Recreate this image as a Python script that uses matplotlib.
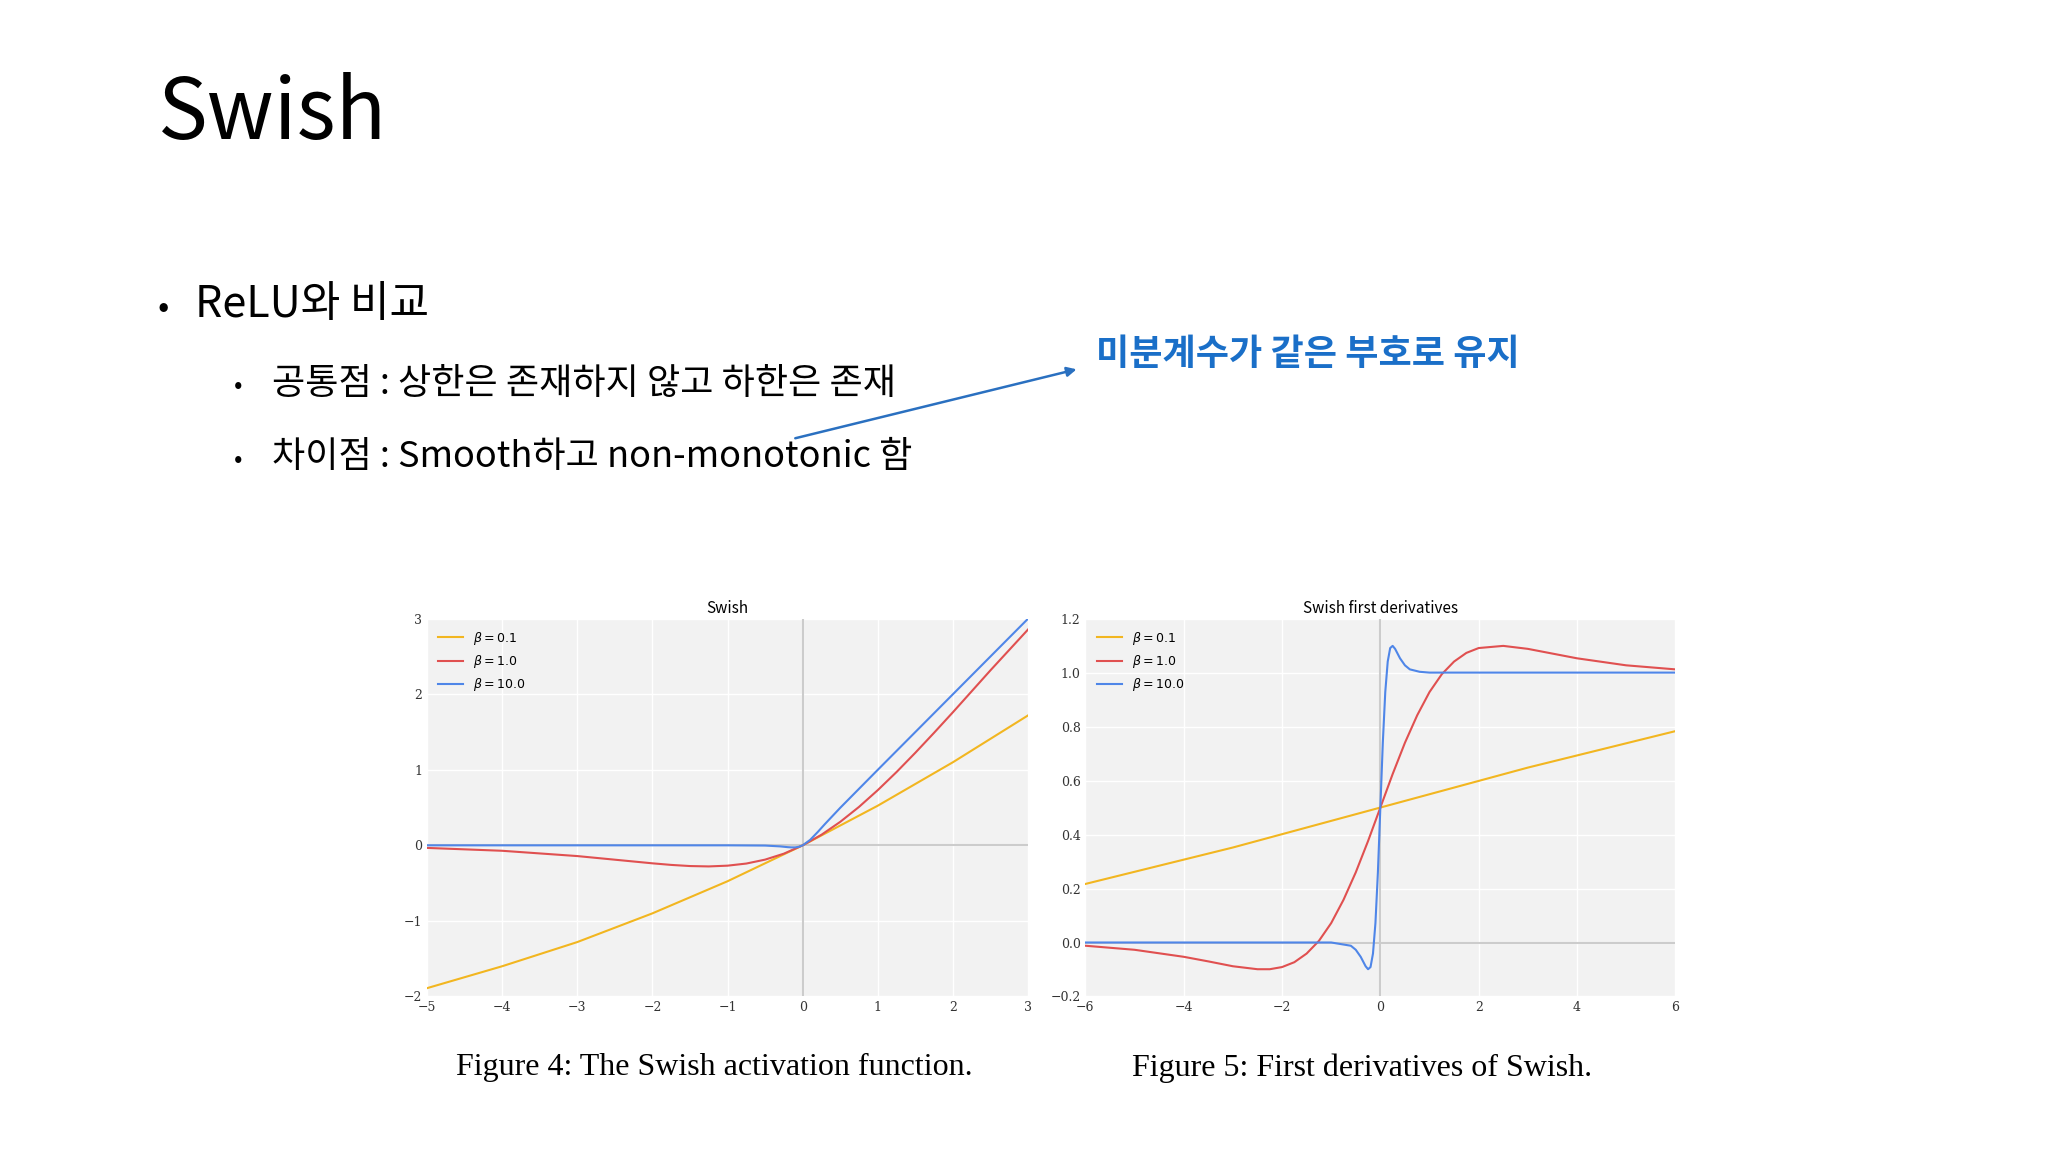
import matplotlib
matplotlib.use("Agg")
import matplotlib.pyplot as plt

plt.rcParams['font.family'] = ['Noto Sans CJK KR', 'DejaVu Sans']

# Swish values
x_b01 = [-5, -4, -3, -2, -1, 0, 1, 2, 3]
y_b01 = [-1.89, -1.60, -1.28, -0.90, -0.475, 0, 0.525, 1.10, 1.72]
x_b1 = [-5, -4, -3, -2, -1.75, -1.5, -1.25, -1, -0.75, -0.5, -0.25, 0, 0.25, 0.5, 0.75, 1, 1.25, 1.5, 1.75, 2, 2.5, 3]
y_b1 = [-0.034, -0.072, -0.142, -0.238, -0.259, -0.274, -0.279, -0.269, -0.241, -0.189, -0.110, 0, 0.140, 0.311, 0.509, 0.731, 0.971, 1.226, 1.491, 1.762, 2.317, 2.857]
x_b10 = [-5, -1, -0.5, -0.3, -0.2, -0.15, -0.1, -0.05, 0, 0.1, 0.2, 0.3, 0.5, 1, 3]
y_b10 = [0, 0, -0.003, -0.014, -0.024, -0.027, -0.027, -0.019, 0, 0.073, 0.176, 0.286, 0.497, 1.0, 3.0]

# first derivatives
dx_b01 = [-6, -3, 0, 3, 6]
dy_b01 = [0.217, 0.352, 0.5, 0.648, 0.783]
dx_b1 = [-6, -5, -4, -3.5, -3, -2.5, -2.25, -2, -1.75, -1.5, -1.25, -1, -0.75, -0.5, -0.25, 0, 0.25, 0.5, 0.75, 1, 1.25, 1.5, 1.75, 2, 2.5, 3, 4, 5, 6]
dy_b1 = [-0.012, -0.027, -0.053, -0.070, -0.088, -0.099, -0.099, -0.091, -0.073, -0.041, 0.006, 0.072, 0.158, 0.260, 0.376, 0.5, 0.624, 0.740, 0.842, 0.928, 0.994, 1.041, 1.073, 1.091, 1.099, 1.088, 1.053, 1.027, 1.012]
dx_b10 = [-6, -1, -0.6, -0.5, -0.4, -0.3, -0.25, -0.2, -0.15, -0.1, -0.05, 0, 0.05, 0.1, 0.15, 0.2, 0.25, 0.3, 0.4, 0.5, 0.6, 0.8, 1.0, 6]
dy_b10 = [0, 0, -0.012, -0.027, -0.053, -0.088, -0.099, -0.091, -0.041, 0.072, 0.260, 0.5, 0.740, 0.928, 1.041, 1.091, 1.099, 1.088, 1.053, 1.027, 1.012, 1.003, 1.0, 1.0]

labels = [r'$\beta=0.1$', r'$\beta=1.0$', r'$\beta=10.0$']
colors = ['#f2b620', '#e05050', '#4f86e8']

fig = plt.figure(figsize=(20.48, 11.52), dpi=100)
fig.patch.set_facecolor('white')

fig.text(0.077, 0.90, 'Swish', fontsize=60, va='center')
fig.text(0.077, 0.733, '•', fontsize=24, va='center')
fig.text(0.095, 0.735, 'ReLU와 비교', fontsize=31, va='center')
fig.text(0.114, 0.665, '•', fontsize=18, va='center')
fig.text(0.133, 0.667, '공통점 : 상한은 존재하지 않고 하한은 존재', fontsize=26, va='center')
fig.text(0.114, 0.601, '•', fontsize=18, va='center')
fig.text(0.133, 0.603, '차이점 : Smooth하고 non-monotonic 함', fontsize=26, va='center')
fig.text(0.535, 0.692, '미분계수가 같은 부호로 유지', fontsize=26, va='center',
         color='#1a6fc8', fontweight='bold')
fig.patches.append(matplotlib.patches.FancyArrowPatch(
    (0.387, 0.619), (0.527, 0.680), transform=fig.transFigure,
    arrowstyle='-|>', mutation_scale=14, color='#2a70c0', lw=1.8))

def style(ax):
    ax.set_facecolor('#f2f2f2')
    ax.grid(True, color='white', lw=1)
    for s in ax.spines.values():
        s.set_visible(False)
    ax.tick_params(length=0, labelsize=9, colors='#333333')
    ax.set_axisbelow(True)

ax1 = fig.add_axes([0.2085, 0.135, 0.2935, 0.328])
style(ax1)
ax1.axhline(0, color='#cccccc', lw=1.5)
ax1.axvline(0, color='#cccccc', lw=1.5)
for xs, ys, c, l in zip([x_b01, x_b1, x_b10], [y_b01, y_b1, y_b10], colors, labels):
    ax1.plot(xs, ys, color=c, lw=1.5, label=l)
ax1.set_xlim(-5, 3); ax1.set_ylim(-2, 3)
ax1.set_xticks(range(-5, 4)); ax1.set_yticks(range(-2, 4))
ax1.set_xticklabels(['−5','−4','−3','−2','−1','0','1','2','3'], fontfamily='DejaVu Serif')
ax1.set_yticklabels(['−2','−1','0','1','2','3'], fontfamily='DejaVu Serif')
ax1.set_title('Swish', fontsize=11, pad=4)
ax1.legend(loc='upper left', fontsize=9, frameon=False)

ax2 = fig.add_axes([0.530, 0.135, 0.288, 0.328])
style(ax2)
ax2.axhline(0, color='#cccccc', lw=1.5)
ax2.axvline(0, color='#cccccc', lw=1.5)
for xs, ys, c, l in zip([dx_b01, dx_b1, dx_b10], [dy_b01, dy_b1, dy_b10], colors, labels):
    ax2.plot(xs, ys, color=c, lw=1.5, label=l)
ax2.set_xlim(-6, 6); ax2.set_ylim(-0.2, 1.2)
ax2.set_xticks(range(-6, 7, 2))
ax2.set_xticklabels(['−6','−4','−2','0','2','4','6'], fontfamily='DejaVu Serif')
ax2.set_yticks([-0.2, 0, 0.2, 0.4, 0.6, 0.8, 1.0, 1.2])
ax2.set_yticklabels(['−0.2','0.0','0.2','0.4','0.6','0.8','1.0','1.2'], fontfamily='DejaVu Serif')
ax2.set_title('Swish first derivatives', fontsize=11, pad=4)
ax2.legend(loc='upper left', fontsize=9, frameon=False)

fig.text(0.349, 0.073, 'Figure 4: The Swish activation function.', fontsize=23,
         ha='center', va='center', family='Liberation Serif')
fig.text(0.665, 0.073, 'Figure 5: First derivatives of Swish.', fontsize=23,
         ha='center', va='center', family='Liberation Serif')

fig.savefig('out.png', dpi=100)
